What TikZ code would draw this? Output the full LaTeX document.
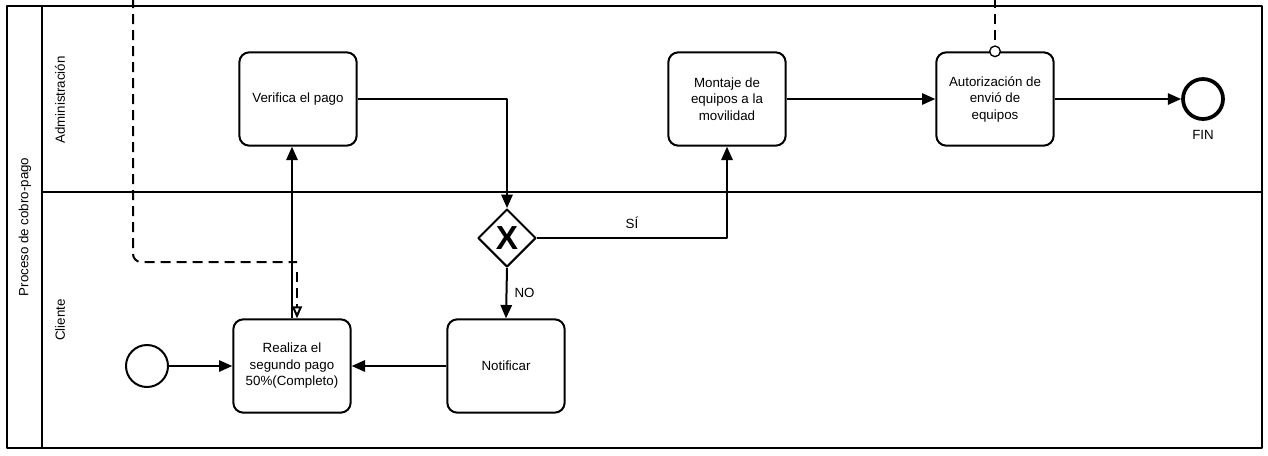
\documentclass[tikz,border=0pt]{standalone}
\usepackage{fontspec}
\setmainfont{Liberation Sans}
\usetikzlibrary{arrows.meta,shapes.geometric}
\tikzset{
  tarea/.style={draw, rounded corners=7.5pt, minimum width=88pt, minimum height=70pt, align=center, inner sep=2pt},
  evento/.style={draw, circle, minimum size=31.5pt, inner sep=0pt},
  compuerta/.style={draw, diamond, aspect=1, minimum size=43.5pt, inner sep=0pt, font=\fontsize{25}{25}\selectfont\bfseries},
  flujo/.style={-{Triangle[length=10pt,width=8.5pt]}},
  mensaje/.style={dash pattern=on 7.5pt off 4.5pt},
}
\begin{document}
\begin{tikzpicture}[x=0.75pt, y=-0.75pt, line width=1.5pt, font=\fontsize{10}{12.4}\selectfont, line join=round]
	\useasboundingbox (0,0) rectangle (1268,455);
	% piscina y carriles
	\draw (7,6) rectangle (1262,448);
	\draw (42,6) -- (42,448);
	\draw (42,192) -- (1262,192);
	\node[rotate=90] (pool) at (25,227) {Proceso de cobro-pago};
	\node[rotate=90] (admin) at (60,100) {Administración};
	\node[rotate=90] (cliente) at (60,320) {Cliente};
	% tareas
	\node[tarea] (verifica) at (298,99) {Verifica el pago};
	\node[tarea] (montaje) at (727,99) {Montaje de\\equipos a la\\movilidad};
	\node[tarea] (autoriza) at (995,99) {Autorización de\\envió de\\equipos};
	\node[evento, line width=2.8pt, minimum size=30pt] (fin) at (1203,99) {};
	\node (finlabel) at (1203,135) {FIN};
	\node[compuerta] (gw) at (507,238) {X};
	\node[tarea] (realiza) at (292,366) {Realiza el\\segundo pago\\50\%(Completo)};
	\node[tarea] (notificar) at (506,366) {Notificar};
	\node[evento] (inicio) at (147,366) {};
	% flujos de secuencia
	\draw[flujo] (inicio) -- (realiza);
	\draw[flujo] (notificar) -- (realiza);
	\draw[flujo] (realiza.north) -- (realiza.north |- verifica.south);
	\draw[flujo] (verifica.east) -| (gw.north);
	\draw[flujo] (gw.east) -| node[pos=0.25, above=3pt] {SÍ} (montaje.south);
	\draw[flujo] (gw.south) -- node[right=2pt] {NO} (notificar.north);
	\draw[flujo] (montaje) -- (autoriza);
	\draw[flujo] (autoriza) -- (fin);
	% flujos de mensaje
	\coordinate (ext1) at (133,-2);
	\coordinate (msg) at (297,262);
	\draw[mensaje, rounded corners=6pt] (ext1) |- (msg);
	\draw[mensaje, -{Triangle[open, length=9pt, width=7.5pt]}] (297,272) -- (msg |- realiza.north);
	\coordinate (ext2) at (995,-2);
	\node[draw, circle, fill=white, minimum size=8pt, inner sep=0pt, line width=1pt] (ini2) at (autoriza.north) {};
	\draw[mensaje] (ext2) -- (ini2);
\end{tikzpicture}
\end{document}
